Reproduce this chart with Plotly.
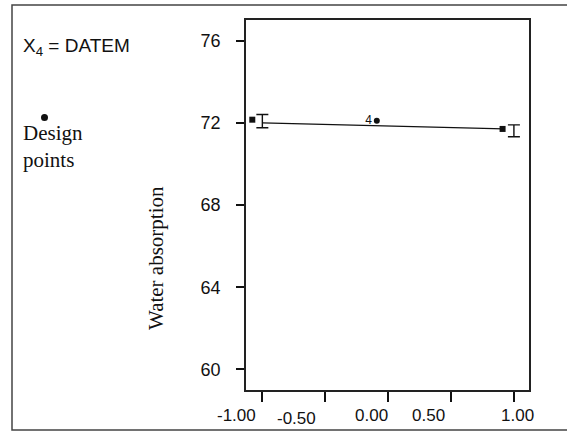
import plotly.graph_objects as go

# Levels of the DATEM factor (coded units) and predicted water absorption
err_x = [-1.0, 1.0]
err_y = [72.08, 71.61]
err_lo = [0.32, 0.29]
err_hi = [0.32, 0.29]

line_x = [-1.0, 0.92]
line_y = [72.0, 71.7]

square_x = [-1.08, 0.91]
square_y = [72.15, 71.7]

center_x = [-0.09]
center_y = [72.1]
center_label = ["4"]

x_ticks = [-1.0, -0.5, 0.0, 0.5, 1.0]
x_tick_text = ["-1.00", "-0.50", "0.00", "0.50", "1.00"]
x_label_shift = [-26, -29, -17, -23, 4]
x_label_drop = [0, 3, 0, 0, 0]
y_ticks = [60, 64, 68, 72, 76]

SANS = "Liberation Sans, Arial, sans-serif"
SERIF = "Liberation Serif, Times New Roman, serif"
INK = "#111"

# plot-area box in pixels; side texts are placed relative to it
plot_l, plot_r, plot_t, plot_b = 246, 529, 20, 390
pw, ph = plot_r - plot_l, plot_b - plot_t


def px(xp):
    return (xp - plot_l) / pw


def py(yp):
    return (plot_b - yp) / ph


fig = go.Figure()

fig.add_trace(go.Scatter(
    x=line_x, y=line_y, mode="lines",
    line=dict(color=INK, width=1.3), hoverinfo="skip",
))
fig.add_trace(go.Scatter(
    x=err_x, y=err_y, mode="markers",
    marker=dict(size=1, color="rgba(0,0,0,0)"),
    error_y=dict(type="data", symmetric=False, array=err_hi, arrayminus=err_lo,
                 color=INK, thickness=1.4, width=6),
))
fig.add_trace(go.Scatter(
    x=square_x, y=square_y, mode="markers",
    marker=dict(symbol="square", size=6, color=INK),
))
fig.add_trace(go.Scatter(
    x=center_x, y=center_y, mode="markers+text",
    marker=dict(symbol="circle", size=6, color=INK),
    text=center_label, textposition="middle left",
    textfont=dict(family=SANS, size=12, color=INK),
))

annotations = []
for v, t, dx, dy in zip(x_ticks, x_tick_text, x_label_shift, x_label_drop):
    annotations.append(dict(
        x=v, y=0, xref="x", yref="paper", text=t, showarrow=False,
        yanchor="top", xanchor="center", xshift=dx, yshift=-14 - dy,
        font=dict(family=SANS, size=17, color=INK),
    ))

annotations += [
    dict(x=px(21), y=py(47), xref="paper", yref="paper",
         text="X<sub>4</sub> = DATEM", showarrow=False,
         xanchor="left", yanchor="middle",
         font=dict(family=SANS, size=19, color=INK)),
    dict(x=px(21), y=py(146), xref="paper", yref="paper",
         text="Design<br>points", showarrow=False,
         xanchor="left", yanchor="middle", align="left",
         font=dict(family=SERIF, size=21, color=INK)),
    dict(x=px(156), y=py(258), xref="paper", yref="paper",
         text="Water absorption", showarrow=False, textangle=-90,
         xanchor="center", yanchor="middle",
         font=dict(family=SERIF, size=21, color=INK)),
]

shapes = [
    # outer frame of the panel
    dict(type="rect", xref="paper", yref="paper",
         x0=px(12), x1=px(575), y0=py(430), y1=py(5),
         line=dict(color="#444", width=1.5), layer="below"),
    # bullet above the "Design" caption
    dict(type="circle", xref="paper", yref="paper",
         x0=px(41), x1=px(48), y0=py(121), y1=py(114),
         fillcolor=INK, line=dict(width=0)),
]

fig.update_layout(
    width=567, height=433,
    margin=dict(l=plot_l, r=567 - plot_r, t=plot_t, b=433 - plot_b),
    paper_bgcolor="white", plot_bgcolor="white",
    showlegend=False,
    annotations=annotations, shapes=shapes,
    xaxis=dict(
        range=[-1.13, 1.12], tickvals=x_ticks, showticklabels=False,
        ticks="outside", ticklen=10, tickwidth=1.5, tickcolor=INK,
        showline=True, linecolor="#222", linewidth=1.8, mirror=True,
        showgrid=False, zeroline=False,
    ),
    yaxis=dict(
        range=[59, 77], tickvals=y_ticks,
        ticks="outside", ticklen=8, tickwidth=1.5, tickcolor=INK,
        ticklabelstandoff=12,
        tickfont=dict(family=SANS, size=18, color=INK),
        showline=True, linecolor="#222", linewidth=1.8, mirror=True,
        showgrid=False, zeroline=False,
    ),
)

fig.write_html("out.html")
